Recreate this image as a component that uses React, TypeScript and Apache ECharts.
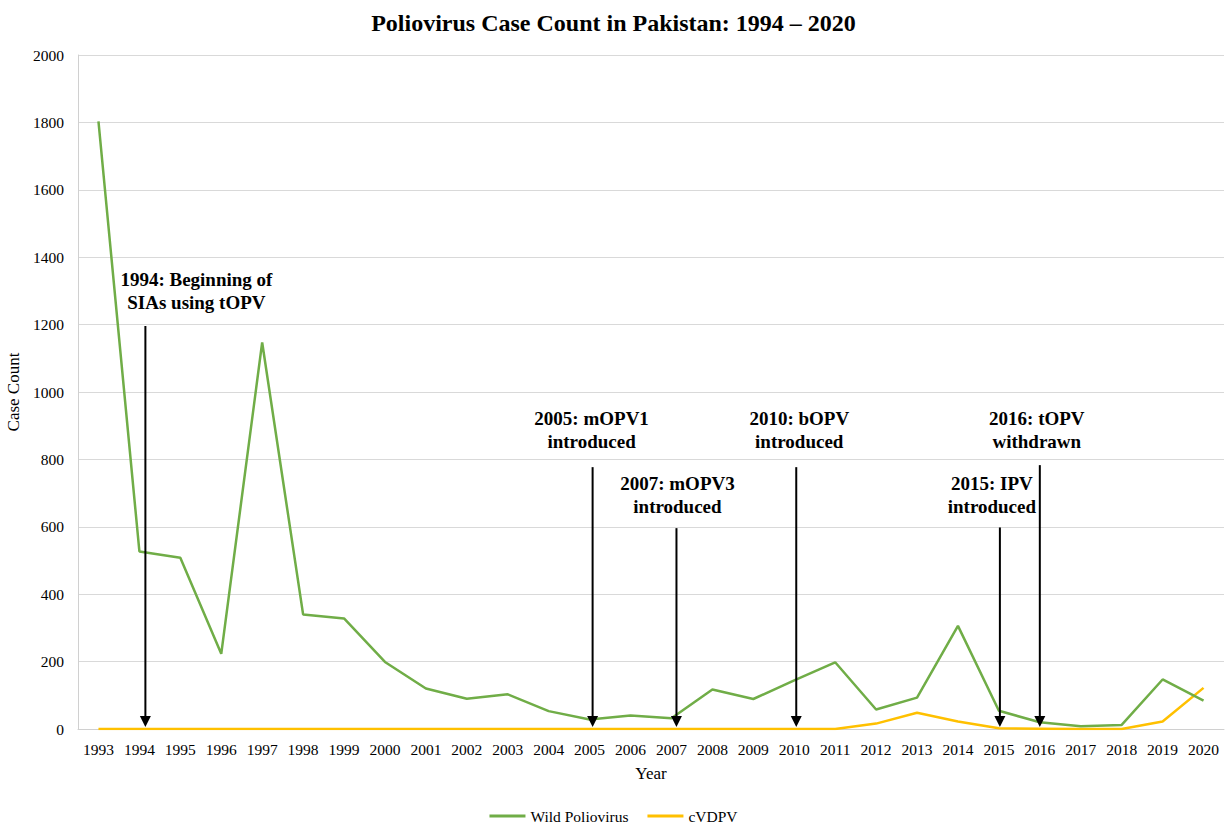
import React, { useEffect, useRef } from "react";
import * as echarts from "echarts";

const years = [
  "1993", "1994", "1995", "1996", "1997", "1998", "1999", "2000", "2001", "2002",
  "2003", "2004", "2005", "2006", "2007", "2008", "2009", "2010", "2011", "2012",
  "2013", "2014", "2015", "2016", "2017", "2018", "2019", "2020",
];
const wildPolio = [
  1803, 527, 508, 223, 1147, 340, 328, 199, 120, 90,
  103, 53, 28, 40, 32, 117, 89, 144, 198, 58,
  93, 306, 54, 20, 8, 12, 147, 84,
];
const cVDPV = [
  0, 0, 0, 0, 0, 0, 0, 0, 0, 0,
  0, 0, 0, 0, 0, 0, 0, 0, 0, 16,
  48, 22, 2, 1, 0, 0, 22, 122,
];

// annotations (hand-placed callouts in the original)
const arrowYears = ["1994", "2005", "2007", "2010", "2015", "2016"];
const arrowTops = [1196, 777, 596, 777, 598, 783];
const arrowDx = [6, 3, 5, 2, 1, 0];
const annotationTexts = [
  "1994: Beginning of\nSIAs using tOPV",
  "2005: mOPV1\nintroduced",
  "2007: mOPV3\nintroduced",
  "2010: bOPV\nintroduced",
  "2015: IPV\nintroduced",
  "2016: tOPV\nwithdrawn",
];
const labelDx = [57, 2, 6, 5, -7, -3];
const labelValues = [1300, 886, 694, 886, 694, 886];

const FONT = "'Liberation Serif', 'Times New Roman', serif";

export default function App() {
  const ref = useRef<HTMLDivElement>(null);
  useEffect(() => {
    if (!ref.current) return;
    const chart = echarts.init(ref.current, undefined, { renderer: "svg" });
    const option: any = {
      animation: false,
      backgroundColor: "#ffffff",
      textStyle: { fontFamily: FONT },
      title: {
        text: "Poliovirus Case Count in Pakistan: 1994 \u2013 2020",
        left: "center",
        top: 6,
        textStyle: { fontFamily: FONT, fontSize: 24, fontWeight: "bold", color: "#000" },
      },
      legend: {
        bottom: 0,
        left: "center",
        padding: 0,
        itemWidth: 36,
        itemHeight: 3,
        itemGap: 19,
        icon: "rect",
        textStyle: { fontFamily: FONT, fontSize: 15.5, color: "#000" },
        data: ["Wild Poliovirus", "cVDPV"],
      },
      grid: { left: 78, right: 3, top: 55, bottom: 95, containLabel: false, outerBoundsMode: "none" },
      xAxis: {
        type: "category",
        data: years,
        boundaryGap: true,
        name: "Year",
        nameLocation: "middle",
        nameGap: 36,
        nameTextStyle: { fontFamily: FONT, fontSize: 17, color: "#000" },
        axisLine: { lineStyle: { color: "#d0d0d0", width: 1 } },
        axisTick: { show: false },
        axisLabel: { fontFamily: FONT, fontSize: 15.5, color: "#000", margin: 12, interval: 0 },
      },
      yAxis: {
        type: "value",
        min: 0,
        max: 2000,
        interval: 200,
        name: "Case Count",
        nameLocation: "middle",
        nameGap: 52,
        nameTextStyle: { fontFamily: FONT, fontSize: 17, color: "#000" },
        axisLine: { show: true, lineStyle: { color: "#d0d0d0", width: 1 } },
        axisTick: { show: false },
        axisLabel: {
          fontFamily: FONT,
          fontSize: 15.5,
          color: "#000",
          margin: 14,
          formatter: (v: number) => String(v),
        },
        splitLine: { lineStyle: { color: "#d9d9d9", width: 1 } },
      },
      series: [
        {
          name: "Wild Poliovirus",
          type: "line",
          data: wildPolio,
          symbol: "none",
          lineStyle: { color: "#70ad47", width: 2.5 },
          itemStyle: { color: "#70ad47" },
          z: 3,
        },
        {
          name: "cVDPV",
          type: "line",
          data: cVDPV,
          symbol: "none",
          lineStyle: { color: "#ffc000", width: 2.5 },
          itemStyle: { color: "#ffc000" },
          z: 2,
        },
      ],
    };
    chart.setOption(option);
    const toPx = (x: string, y: number) =>
      chart.convertToPixel({ xAxisIndex: 0, yAxisIndex: 0 }, [x, y]) as number[];
    const graphics: any[] = [];
    arrowYears.forEach((yr, i) => {
      const top = toPx(yr, arrowTops[i]);
      const bot = toPx(yr, 0);
      const x = top[0] + arrowDx[i];
      const tipY = bot[1] - 2;
      const headH = 11;
      const headW = 5.5;
      graphics.push({
        type: "line",
        z: 20,
        shape: { x1: x, y1: top[1], x2: x, y2: tipY - headH + 1 },
        style: { stroke: "#000", lineWidth: 2 },
      });
      graphics.push({
        type: "polygon",
        z: 20,
        shape: { points: [[x - headW, tipY - headH], [x + headW, tipY - headH], [x, tipY]] },
        style: { fill: "#000" },
      });
      const lp = toPx(yr, labelValues[i]);
      graphics.push({
        type: "text",
        x: lp[0] + labelDx[i],
        y: lp[1],
        z: 20,
        style: {
          text: annotationTexts[i],
          fontFamily: FONT,
          fontSize: 19,
          fontWeight: "bold",
          fill: "#000",
          align: "center",
          verticalAlign: "middle",
          lineHeight: 23,
        },
      });
    });
    chart.setOption({ graphic: graphics });
    return () => chart.dispose();
  }, []);
  return <div ref={ref} style={{ width: 1227, height: 824, position: "absolute", left: 0, top: 0 }} />;
}
